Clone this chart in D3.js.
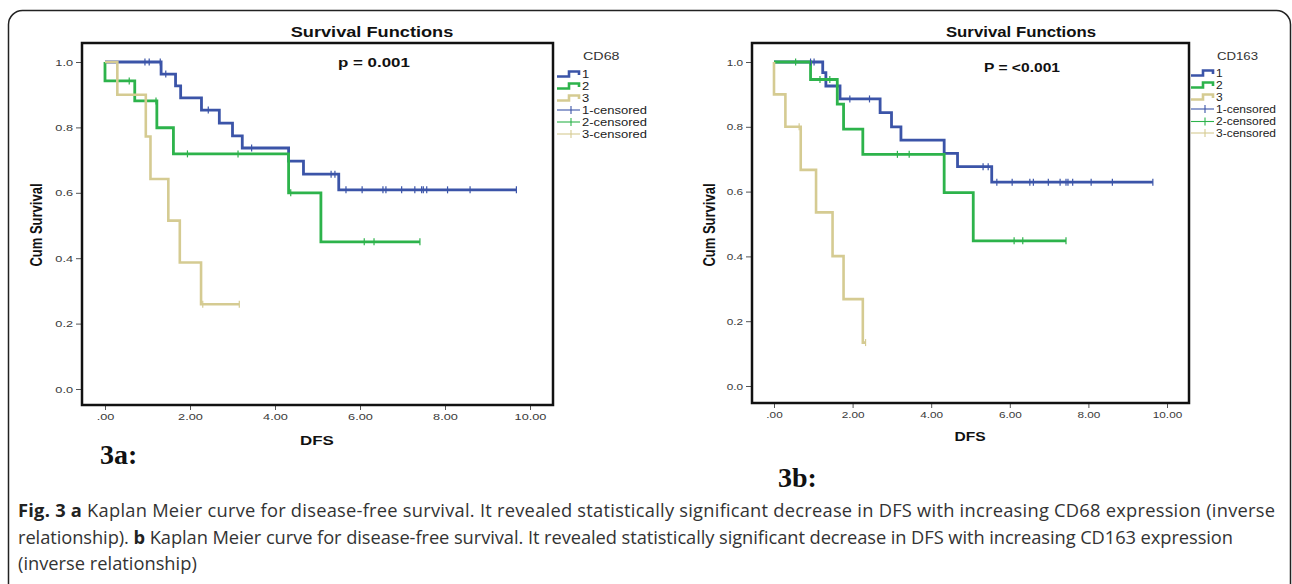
<!DOCTYPE html>
<html>
<head>
<meta charset="utf-8">
<script src="https://cdn.jsdelivr.net/npm/d3@7"></script>
<style>
body { margin: 0; background: #fff; }
</style>
</head>
<body>
<script>
var W = 1292, H = 584;

// CD68 (panel 3a): event times and survival after each step, censor times
var cd68_1_time = [0, 1.32, 1.66, 1.78, 2.27, 2.69, 3.0, 3.23, 4.32, 4.67, 5.5];
var cd68_1_surv = [1, 0.963, 0.927, 0.89, 0.853, 0.813, 0.774, 0.737, 0.697, 0.657, 0.609];
var cd68_1_cens = [0.94, 1.04, 1.3, 1.43, 2.43, 3.45, 5.32, 5.41, 5.67, 6.05, 6.54, 6.61, 6.98, 7.29, 7.45, 7.49, 7.57, 8.06, 8.59, 9.68];
var cd68_2_time = [0, 0, 0.7, 1.22, 1.61, 4.32, 5.08];
var cd68_2_surv = [1, 0.942, 0.881, 0.799, 0.719, 0.6, 0.45];
var cd68_2_cens = [0.57, 1.2, 1.94, 3.13, 4.37, 6.1, 6.33, 7.41];
var cd68_3_time = [0, 0.29, 0.96, 1.07, 1.49, 1.76, 2.26];
var cd68_3_surv = [1, 0.9, 0.772, 0.642, 0.515, 0.387, 0.259];
var cd68_3_cens = [2.3, 3.16];

// CD163 (panel 3b)
var cd163_1_time = [0, 1.24, 1.32, 1.68, 2.7, 2.99, 3.23, 4.33, 4.67, 5.54];
var cd163_1_surv = [1, 0.967, 0.926, 0.886, 0.844, 0.8, 0.759, 0.718, 0.677, 0.629];
var cd163_1_cens = [0.93, 1.02, 1.93, 2.43, 5.32, 5.45, 5.67, 6.06, 6.51, 6.6, 6.98, 7.28, 7.43, 7.48, 7.6, 8.07, 8.61, 9.64];
var cd163_2_time = [0, 0.93, 1.61, 1.77, 2.26, 4.33, 5.07];
var cd163_2_surv = [1, 0.946, 0.87, 0.793, 0.715, 0.597, 0.448];
var cd163_2_cens = [0.55, 1.17, 1.42, 3.14, 3.44, 6.11, 6.33, 7.43];
var cd163_3_time = [0, 0, 0.29, 0.68, 1.07, 1.49, 1.77, 2.26];
var cd163_3_surv = [1, 0.9, 0.8, 0.667, 0.536, 0.401, 0.268, 0.134];
var cd163_3_cens = [0.64, 2.33];

var xTicks = [0, 2, 4, 6, 8, 10];
var yTicks = [0, 0.2, 0.4, 0.6, 0.8, 1.0];
var legendLabels = ["1", "2", "3", "1-censored", "2-censored", "3-censored"];
var colors = ["#3b54a8", "#2db34b", "#d5cb92"];

var svg = d3.select("body").append("svg")
    .attr("width", W)
    .attr("height", H);

// outer box
svg.append("rect")
    .attr("x", 8.5).attr("y", 10.5)
    .attr("width", 1282).attr("height", 600)
    .attr("rx", 14)
    .attr("fill", "none")
    .attr("stroke", "#222")
    .attr("stroke-width", 1.5);

function stretchText(g, x, y, str, size, weight, sx, anchor, fill) {
    return g.append("text")
        .attr("transform", "translate(" + x + "," + y + ") scale(" + sx + ",1)")
        .attr("text-anchor", anchor || "start")
        .attr("font-family", "Liberation Sans, Arial, sans-serif")
        .attr("font-size", size)
        .attr("font-weight", weight)
        .attr("fill", fill || "#111")
        .text(str);
}

function stepAt(times, surv, t) {
    var s = surv[0];
    for (var i = 0; i < times.length; i++) if (times[i] <= t) s = surv[i];
    return s;
}

function drawPanel(p) {
    var g = svg.append("g");
    var x = d3.scaleLinear().domain([0, 10]).range(p.xr);
    var y = d3.scaleLinear().domain([0, 1]).range(p.yr);
    var sx = p.sx;

    // axes
    var ya = g.append("g").attr("transform", "translate(" + p.frame[0] + ",0)")
        .call(d3.axisLeft(y).tickValues(yTicks).tickSize(6).tickFormat(d3.format(".1f")));
    var xa = g.append("g").attr("transform", "translate(0," + p.frame[3] + ")")
        .call(d3.axisBottom(x).tickValues(xTicks).tickSize(5)
            .tickFormat(function(d) { return d === 0 ? ".00" : d.toFixed(2); }));
    [ya, xa].forEach(function(a) {
        a.select(".domain").remove();
        a.selectAll("line").attr("stroke", "#555");
        a.selectAll("text")
            .attr("font-family", "Liberation Sans, Arial, sans-serif")
            .attr("font-size", 9.8)
            .attr("fill", "#3a3a3a");
    });
    ya.selectAll("text").attr("x", -9 / sx).attr("transform", "scale(" + sx + ",1)");
    xa.selectAll("text").attr("transform", "scale(" + sx + ",1)");

    // curves
    var line = d3.line()
        .x(function(d) { return x(d[0]); })
        .y(function(d) { return y(d[1]); })
        .curve(d3.curveStepAfter);

    p.series.forEach(function(s, i) {
        var pts = s.time.map(function(t, j) { return [t, s.surv[j]]; });
        var end = d3.max(s.cens.concat(s.time));
        pts.push([end, s.surv[s.surv.length - 1]]);
        g.append("path")
            .attr("d", line(pts))
            .attr("fill", "none")
            .attr("stroke", colors[i])
            .attr("stroke-width", i === 2 ? 2.6 : 2.8);
    });
    p.series.forEach(function(s, i) {
        g.selectAll(null).data(s.cens).enter().append("line")
            .attr("x1", function(t) { return x(t); })
            .attr("x2", function(t) { return x(t); })
            .attr("y1", function(t) { return y(stepAt(s.time, s.surv, t)) - 3.5; })
            .attr("y2", function(t) { return y(stepAt(s.time, s.surv, t)) + 3.5; })
            .attr("stroke", colors[i])
            .attr("stroke-width", 1.2);
    });

    // frame
    g.append("rect")
        .attr("x", p.frame[0]).attr("y", p.frame[1])
        .attr("width", p.frame[2] - p.frame[0]).attr("height", p.frame[3] - p.frame[1])
        .attr("fill", "none")
        .attr("stroke", "#111")
        .attr("stroke-width", 2.5);

    // texts
    stretchText(g, p.titleX, 37, "Survival Functions", 14, "bold", sx, "middle");
    stretchText(g, p.pX, p.pY, p.pText, 13, "bold", sx, "start");
    stretchText(g, p.dfsX, p.dfsY, "DFS", 13, "bold", sx, "middle");
    g.append("text")
        .attr("transform", "translate(" + p.ylabX + ",225) scale(" + sx + ",1) rotate(-90)")
        .attr("text-anchor", "middle")
        .attr("font-family", "Liberation Sans, Arial, sans-serif")
        .attr("font-size", 13)
        .attr("font-weight", "bold")
        .attr("fill", "#111")
        .text("Cum Survival");

    // legend
    var lx = p.legX;
    stretchText(g, lx + 26, 60, p.legTitle, 11, "normal", sx, "start", "#333");
    legendLabels.forEach(function(lab, i) {
        var cy = p.legY[i];
        var c = colors[i % 3];
        if (i < 3) {
            g.append("path")
                .attr("d", "M" + lx + "," + (cy + 2.5) + "H" + (lx + 12) + "V" + (cy - 2.5) + "H" + (lx + 22) + "V" + (cy + 1))
                .attr("fill", "none").attr("stroke", c).attr("stroke-width", 2.6);
        } else {
            g.append("line").attr("x1", lx).attr("x2", lx + 23).attr("y1", cy).attr("y2", cy)
                .attr("stroke", c).attr("stroke-width", 1.1);
            g.append("line").attr("x1", lx + 14).attr("x2", lx + 14).attr("y1", cy - 4).attr("y2", cy + 4)
                .attr("stroke", c).attr("stroke-width", 1.1);
        }
        stretchText(g, lx + 25, cy + 3.5, lab, 10, "normal", sx, "start", "#222");
    });
}

drawPanel({
    xr: [105, 530], yr: [389, 62], frame: [82, 43, 553, 405], sx: 1.3,
    titleX: 372, pX: 338, pY: 67, pText: "p = 0.001",
    dfsX: 317, dfsY: 445, ylabX: 42,
    legX: 557, legY: [74, 86, 98, 110, 122, 134], legTitle: "CD68",
    series: [
        {time: cd68_1_time, surv: cd68_1_surv, cens: cd68_1_cens},
        {time: cd68_2_time, surv: cd68_2_surv, cens: cd68_2_cens},
        {time: cd68_3_time, surv: cd68_3_surv, cens: cd68_3_cens}
    ]
});

drawPanel({
    xr: [774, 1167], yr: [386, 62], frame: [752, 43, 1189, 403], sx: 1.2,
    titleX: 1021, pX: 984, pY: 72, pText: "P = <0.001",
    dfsX: 970, dfsY: 441, ylabX: 715,
    legX: 1191, legY: [73, 85, 97, 109, 121.5, 133], legTitle: "CD163",
    series: [
        {time: cd163_1_time, surv: cd163_1_surv, cens: cd163_1_cens},
        {time: cd163_2_time, surv: cd163_2_surv, cens: cd163_2_cens},
        {time: cd163_3_time, surv: cd163_3_surv, cens: cd163_3_cens}
    ]
});

// panel labels
svg.append("text").attr("x", 100).attr("y", 464)
    .attr("font-family", "Liberation Serif, Times New Roman, serif")
    .attr("font-size", 28).attr("font-weight", "bold").attr("fill", "#111").text("3a:");
svg.append("text").attr("x", 778).attr("y", 487)
    .attr("font-family", "Liberation Serif, Times New Roman, serif")
    .attr("font-size", 28).attr("font-weight", "bold").attr("fill", "#111").text("3b:");

// caption
var captionLines = [
    [["Fig. 3 a", true], [" Kaplan Meier curve for disease-free survival. It revealed statistically significant decrease in DFS with increasing CD68 expression (inverse", false]],
    [["relationship). ", false], ["b", true], [" Kaplan Meier curve for disease-free survival. It revealed statistically significant decrease in DFS with increasing CD163 expression", false]],
    [["(inverse relationship)", false]]
];
var capY = [517, 544, 570];
var capLen = [1257, 1215, null];
captionLines.forEach(function(parts, i) {
    var t = svg.append("text").attr("x", 18).attr("y", capY[i])
        .attr("font-family", "Open Sans, Noto Sans, sans-serif")
        .attr("font-size", 18.3)
        .attr("fill", "#333");
    if (capLen[i]) t.attr("textLength", capLen[i]).attr("lengthAdjust", "spacing");
    parts.forEach(function(pt) {
        t.append("tspan").attr("font-weight", pt[1] ? "bold" : "normal")
            .attr("fill", pt[1] ? "#222" : "#333").text(pt[0]);
    });
});
</script>
</body>
</html>
